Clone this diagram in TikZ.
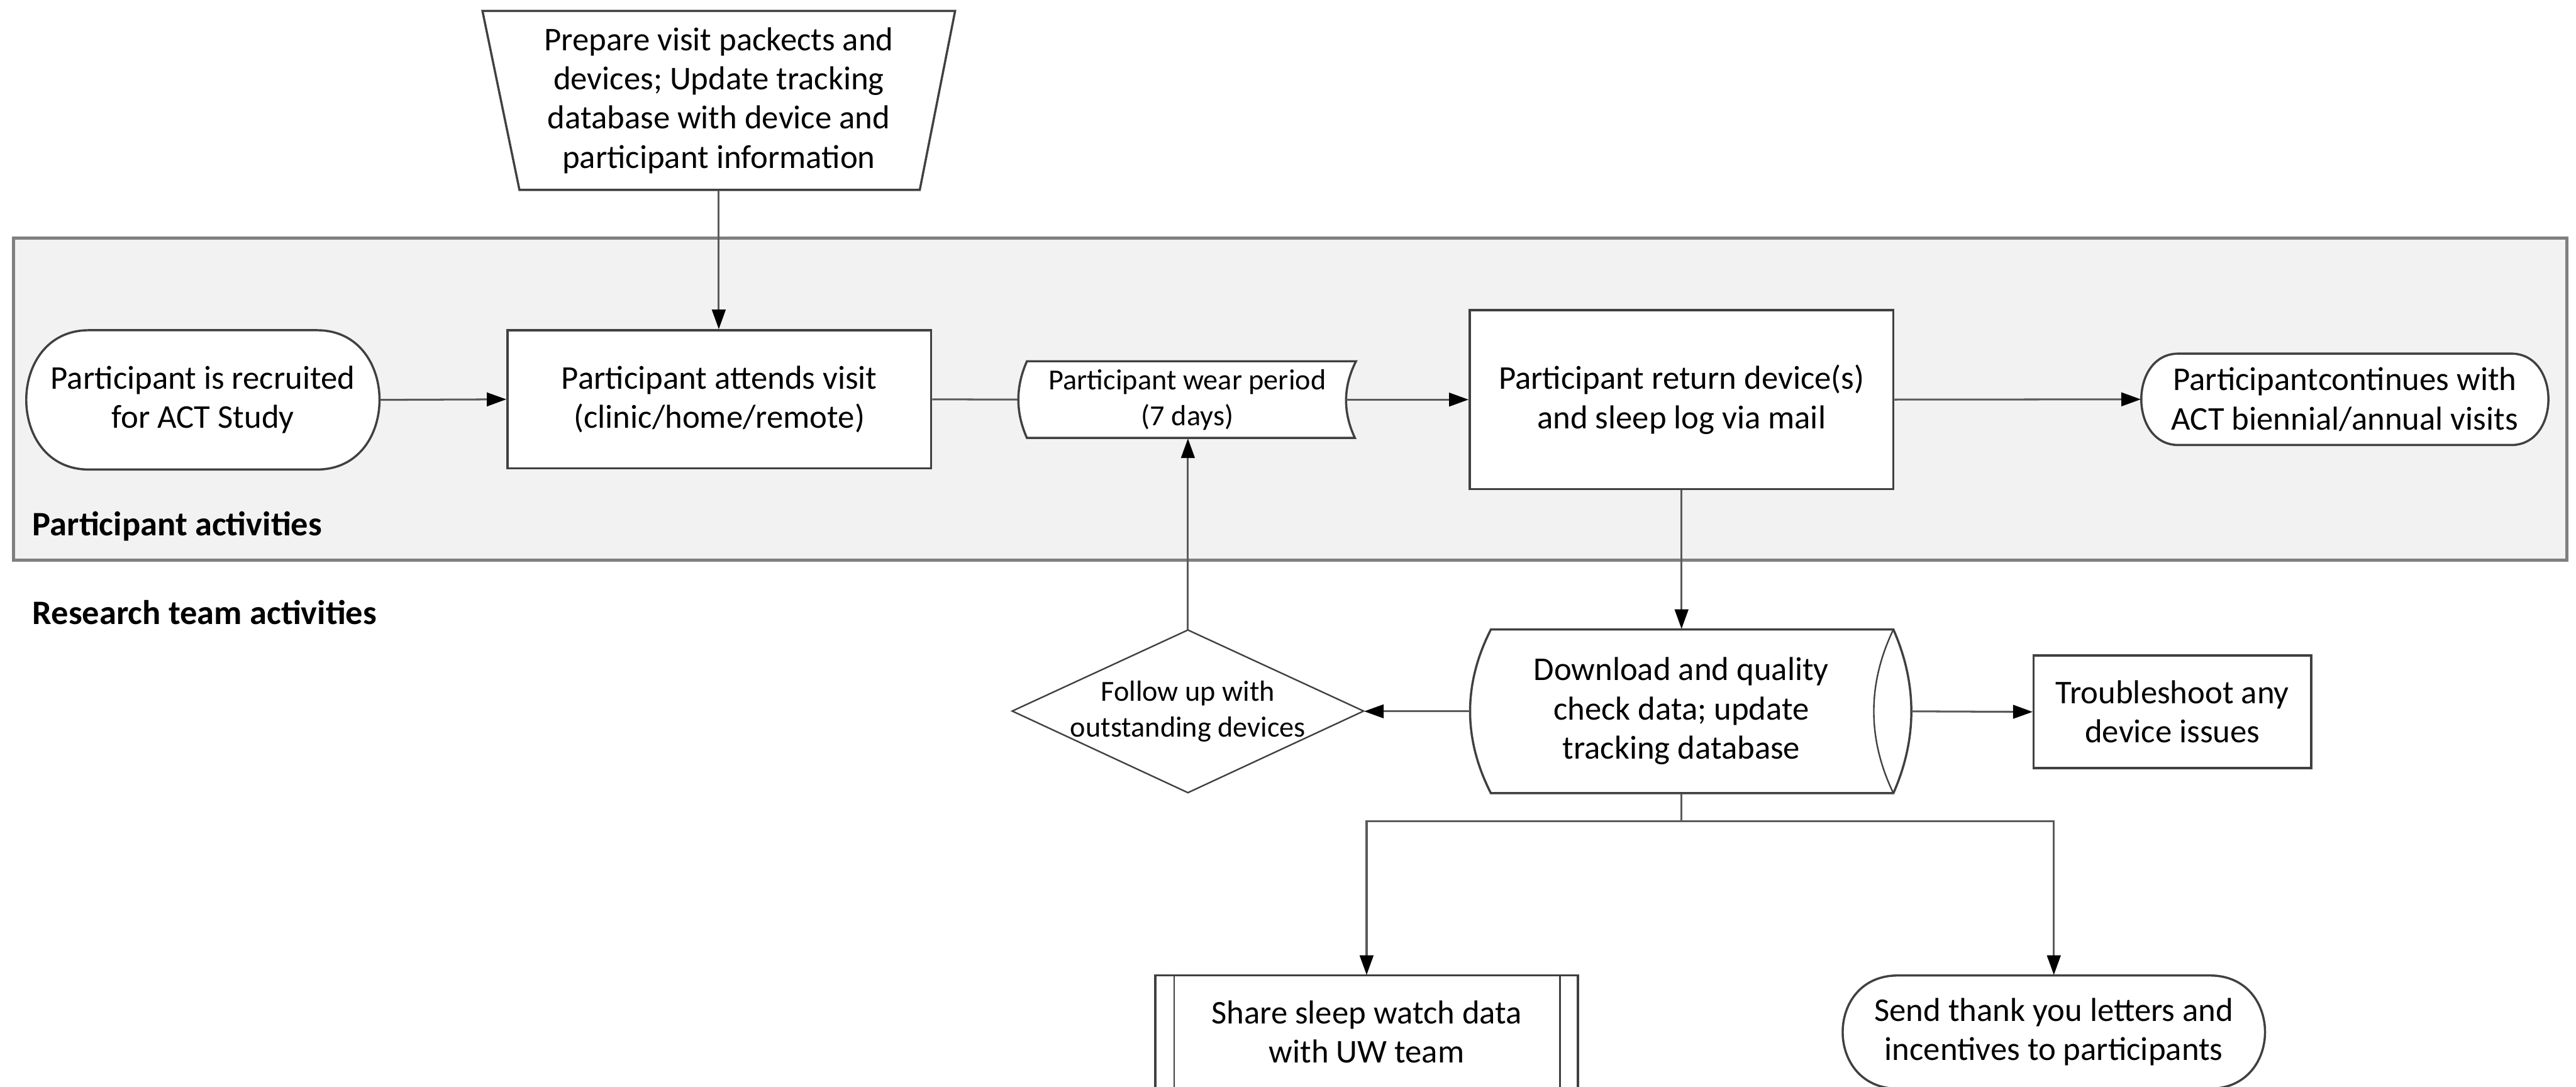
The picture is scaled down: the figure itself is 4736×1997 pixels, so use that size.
\documentclass[tikz,border=0pt]{standalone}
\usepackage{fontspec}
\setmainfont{Carlito}
\usetikzlibrary{arrows.meta}
\definecolor{bord}{HTML}{404040}
\definecolor{conn}{HTML}{5A5A5A}
\definecolor{lanefill}{HTML}{F2F2F2}
\definecolor{laneline}{HTML}{7F7F7F}
\newcommand\mytxt{\fontsize{12.2pt}{14.4pt}\selectfont}
\newcommand\mysmall{\fontsize{10.7pt}{13.2pt}\selectfont}
\newcommand\mybold{\fontsize{12.6pt}{15pt}\selectfont\bfseries}
\tikzset{
  outline/.style={draw=bord, fill=white, line width=0.8pt},
  thinoutline/.style={draw=bord, fill=white, line width=0.55pt},
  txt/.style={inner sep=0pt, align=center, font=\mytxt},
  smalltxt/.style={inner sep=0pt, align=center, font=\mysmall},
  rectbox/.style={draw=bord, fill=white, line width=0.8pt},
  conline/.style={draw=conn, line width=0.7pt},
  arr/.style={conline, -{Triangle[length=7.2pt,width=5pt,color=black,fill=black]}},
  lanelabel/.style={anchor=base west, inner sep=0pt, font=\mybold}
}
\begin{document}
\begin{tikzpicture}[x=0.2pt,y=-0.2pt]
\useasboundingbox (0,0) rectangle (4736,1997);
\clip (0,0) rectangle (4736,1997);
\fill[white] (0,0) rectangle (4736,1997);

% participant lane
\draw[draw=laneline, fill=lanefill, line width=1.1pt] (25,438) rectangle (4719,1030);
\node[lanelabel] (plab) at (59,985) {Participant activities};
\node[lanelabel] (rlab) at (59,1148) {Research team activities};

% manual operation (trapezoid)
\draw[outline] (887,20) -- (1756,20) -- (1691,349) -- (955,349) -- cycle;
\node[txt, minimum width=173.8pt, minimum height=65.8pt] (prep) at (1321.5,184.5)
  {Prepare visit packects and\\devices; Update tracking\\database with device and\\participant information};

% start terminal
\draw[outline] (163,607) -- (583,607) .. controls (736,607) and (736,863) .. (583,863)
  -- (163,863) .. controls (10,863) and (10,607) .. (163,607) -- cycle;
\node[txt, minimum width=130pt, minimum height=51.2pt] (start) at (373,735) {Participant is recruited\\for ACT Study};

% attend visit
\node[txt, rectbox, minimum width=155.8pt, minimum height=50.8pt] (attend) at (1322.5,734) {Participant attends visit\\(clinic/home/remote)};

% wear period
\draw[outline] (1888,664) -- (2493,664) .. controls (2469,711) and (2469,758) .. (2491,805)
  -- (1888,805) .. controls (1867,758) and (1867,711) .. (1888,664) -- cycle;
\node[smalltxt, minimum width=124.4pt, minimum height=28.2pt] (wear) at (2183,734.5) {Participant wear period\\(7 days)};

% return devices
\node[txt, rectbox, minimum width=155.8pt, minimum height=65.8pt] (ret) at (3091.5,734.5) {Participant return device(s)\\and sleep log via mail};

% end terminal
\draw[outline] (4005,650) -- (4617,650) .. controls (4708,650) and (4708,818) .. (4617,818)
  -- (4005,818) .. controls (3914,818) and (3914,650) .. (4005,650) -- cycle;
\node[txt, minimum width=149.6pt, minimum height=33.6pt] (endt) at (4311,734) {Participantcontinues with\\ACT biennial/annual visits};

% download (direct access storage)
\draw[outline] (2741,1157) -- (3481,1157) .. controls (3525,1257) and (3525,1358) .. (3481,1458)
  -- (2741,1458) .. controls (2690,1358) and (2690,1257) .. (2741,1157) -- cycle;
\draw[draw=bord, line width=0.55pt] (3481,1157) .. controls (3433,1257) and (3433,1358) .. (3481,1458);
\node[inner sep=0pt, minimum width=162.2pt, minimum height=60.2pt] (dl) at (3108.5,1307.5) {};
\node[txt] (dltext) at (3091,1307) {Download and quality\\check data; update\\tracking database};

% decision
\draw[thinoutline] (2184,1158) -- (2507,1307) -- (2184,1457) -- (1861,1307) -- cycle;
\node[smalltxt, minimum width=129.2pt, minimum height=59.8pt] (dia) at (2184,1307.5) {Follow up with\\outstanding devices};

% troubleshoot
\node[txt, rectbox, minimum width=102pt, minimum height=41.4pt] (trb) at (3994,1308.5) {Troubleshoot any\\device issues};

% share (predefined process)
\draw[outline] (2124,1793) rectangle (2901,2030);
\draw[draw=bord, line width=0.55pt] (2159,1793) -- (2159,2030) (2868,1793) -- (2868,2030);
\node[txt, minimum width=155.4pt, minimum height=41.6pt] (share) at (2512.5,1897) {Share sleep watch data\\with UW team};

% send terminal
\draw[outline] (3489,1793) -- (4063,1793) .. controls (4198,1793) and (4198,2001) .. (4063,2001)
  -- (3489,2001) .. controls (3354,2001) and (3354,1793) .. (3489,1793) -- cycle;
\node[txt, minimum width=155.2pt, minimum height=41.6pt] (send) at (3776,1897) {Send thank you letters and\\incentives to participants};

% connectors
\draw[arr] (prep.south) -- (prep.south |- attend.north);
\draw[arr] (start.east) -- (attend.west);
\draw[conline] (attend.east) -- (wear.west);
\draw[arr] ([xshift=-3.8pt]wear.east) -- (ret.west);
\draw[arr] (ret.east) -- (endt.west);
\draw[arr] (ret.south) -- (ret.south |- dl.north);
\draw[arr] (dl.west) -- (dia.east);
\draw[arr] (dl.east) -- (trb.west);
\draw[arr] (dia.north) -- (dia.north |- wear.south);
\coordinate (split) at (3091,1510);
\draw[conline] (dltext |- dl.south) -- (split);
\draw[arr] (split) -| (share.north);
\draw[arr] (split) -| (send.north);
\end{tikzpicture}
\end{document}
